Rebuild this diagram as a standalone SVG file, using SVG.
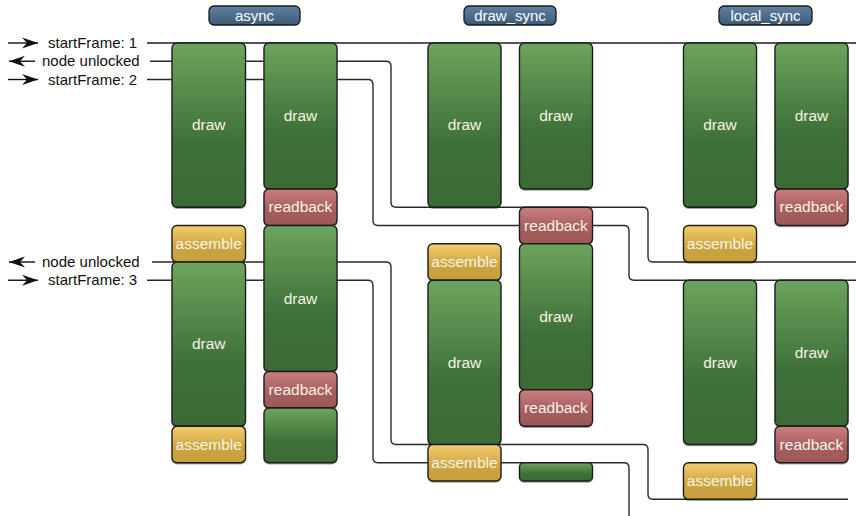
<svg xmlns="http://www.w3.org/2000/svg" width="856" height="516" viewBox="0 0 856 516">
<defs>
<linearGradient id="gG" x1="0" y1="0" x2="0" y2="1"><stop offset="0" stop-color="#6ca45e"/><stop offset="0.62" stop-color="#3d7038"/><stop offset="1" stop-color="#3a6b35"/></linearGradient>
<linearGradient id="gR" x1="0" y1="0" x2="0" y2="1"><stop offset="0" stop-color="#cc7d7d"/><stop offset="0.6" stop-color="#a35d5d"/><stop offset="1" stop-color="#9e5858"/></linearGradient>
<linearGradient id="gA" x1="0" y1="0" x2="0" y2="1"><stop offset="0" stop-color="#f2cd6e"/><stop offset="0.6" stop-color="#cca440"/><stop offset="1" stop-color="#c79f3c"/></linearGradient>
<linearGradient id="gH" x1="0" y1="0" x2="0" y2="1"><stop offset="0" stop-color="#5f82a2"/><stop offset="1" stop-color="#3c5a78"/></linearGradient>
<filter id="sh" x="-10%" y="-10%" width="120%" height="130%"><feDropShadow dx="0" dy="1" stdDeviation="0.7" flood-color="#000" flood-opacity="0.35"/></filter>
<marker id="arR" viewBox="0 0 16 12" refX="16" refY="6" markerWidth="16" markerHeight="12" markerUnits="userSpaceOnUse" orient="auto"><path d="M0,0.5 L16,6 L0,11.5 L5,6 Z" fill="#111"/></marker>
</defs>
<style>
.box{stroke:#1a1a1a;stroke-width:1.3;filter:url(#sh)}
.draw{fill:url(#gG)}
.rb{fill:url(#gR)}
.as{fill:url(#gA)}
.hd{fill:url(#gH);stroke:#1a1a1a;stroke-width:1.3}
.bt{font-family:"Liberation Sans",Arial,sans-serif;font-size:15.5px;fill:#f6f2e6;text-anchor:middle}
.ht{font-family:"Liberation Sans",Arial,sans-serif;font-size:15px;fill:#ffffff;text-anchor:middle}
.lt{font-family:"Liberation Sans",Arial,sans-serif;font-size:15px;fill:#111;text-anchor:start}
.ln{fill:none;stroke:#2b2b2b;stroke-width:1.4}
.top{fill:none;stroke:#555;stroke-width:1.8}
.ar{fill:none;stroke:#111;stroke-width:1.4;marker-end:url(#arR)}
</style>
<rect width="856" height="516" fill="#ffffff"/>

<g id="connectors">
<path class="top" d="M147,43 H856"/>
<path class="ln" d="M150,61.25 H386 Q391,61.25 391,66.25 V202.25 Q391,207.25 396,207.25 H643 Q648,207.25 648,212.25 V257 Q648,262 653,262 H856"/>
<path class="ln" d="M147,79.5 H368 Q373,79.5 373,84.5 V220.5 Q373,225.5 378,225.5 H624 Q629,225.5 629,230.5 V275.25 Q629,280.25 634,280.25 H856"/>
<path class="ln" d="M152,262 H386 Q391,262 391,267 V439.5 Q391,444.5 396,444.5 H643 Q648,444.5 648,449.5 V494.25 Q648,499.25 653,499.25 H848"/>
<path class="ln" d="M147,280.25 H368 Q373,280.25 373,285.25 V457.75 Q373,462.75 378,462.75 H624 Q629,462.75 629,467.75 V516"/>
<path class="ar" d="M8,43 H38"/>
<path class="ar" d="M35,61.25 H9"/>
<path class="ar" d="M8,79.5 H38"/>
<path class="ar" d="M35,262 H9"/>
<path class="ar" d="M8,280.25 H38"/>
</g>

<g id="labels">
<text class="lt" x="48" y="48">startFrame: 1</text>
<text class="lt" x="42" y="66">node unlocked</text>
<text class="lt" x="48" y="84.5">startFrame: 2</text>
<text class="lt" x="42" y="267">node unlocked</text>
<text class="lt" x="48" y="285">startFrame: 3</text>
</g>

<g id="hdr-async"><rect class="hd" x="209" y="6" width="91" height="19" rx="5"/><text class="ht" x="254.5" y="21">async</text></g>
<g id="hdr-draw_sync"><rect class="hd" x="464" y="6" width="92" height="19" rx="5"/><text class="ht" x="510" y="21">draw_sync</text></g>
<g id="hdr-local_sync"><rect class="hd" x="719" y="6" width="93" height="19" rx="5"/><text class="ht" x="765.5" y="21">local_sync</text></g>

<!-- async -->
<g id="a-l-draw1"><rect class="box draw" x="172" y="43" width="73.5" height="164.25" rx="5"/><text class="bt" x="208.75" y="130">draw</text></g>
<g id="a-l-asm1"><rect class="box as" x="172" y="225.5" width="73.5" height="36.5" rx="5"/><text class="bt" x="208.75" y="248.5">assemble</text></g>
<g id="a-l-draw2"><rect class="box draw" x="172" y="262" width="73.5" height="164.25" rx="5"/><text class="bt" x="208.75" y="349">draw</text></g>
<g id="a-l-asm2"><rect class="box as" x="172" y="426.25" width="73.5" height="36.5" rx="5"/><text class="bt" x="208.75" y="449.5">assemble</text></g>
<g id="a-r-draw1"><rect class="box draw" x="264" y="43" width="73" height="146" rx="5"/><text class="bt" x="300.5" y="121">draw</text></g>
<g id="a-r-rb1"><rect class="box rb" x="264" y="189" width="73" height="36.5" rx="5"/><text class="bt" x="300.5" y="212">readback</text></g>
<g id="a-r-draw2"><rect class="box draw" x="264" y="225.5" width="73" height="146" rx="5"/><text class="bt" x="300.5" y="303.5">draw</text></g>
<g id="a-r-rb2"><rect class="box rb" x="264" y="371.5" width="73" height="36.5" rx="5"/><text class="bt" x="300.5" y="394.5">readback</text></g>
<g id="a-r-draw3"><rect class="box draw" x="264" y="408" width="73" height="54.75" rx="5"/></g>

<!-- draw_sync -->
<g id="d-l-draw1"><rect class="box draw" x="428" y="43" width="73" height="164.25" rx="5"/><text class="bt" x="464.5" y="130">draw</text></g>
<g id="d-l-asm1"><rect class="box as" x="428" y="243.75" width="73" height="36.5" rx="5"/><text class="bt" x="464.5" y="267">assemble</text></g>
<g id="d-l-draw2"><rect class="box draw" x="428" y="280.25" width="73" height="164.25" rx="5"/><text class="bt" x="464.5" y="367.5">draw</text></g>
<g id="d-l-asm2"><rect class="box as" x="428" y="444.5" width="73" height="36.5" rx="5"/><text class="bt" x="464.5" y="467.5">assemble</text></g>
<g id="d-r-draw1"><rect class="box draw" x="519.5" y="43" width="73" height="146" rx="5"/><text class="bt" x="556" y="121">draw</text></g>
<g id="d-r-rb1"><rect class="box rb" x="519.5" y="207.25" width="73" height="36.5" rx="5"/><text class="bt" x="556" y="230.5">readback</text></g>
<g id="d-r-draw2"><rect class="box draw" x="519.5" y="243.75" width="73" height="146" rx="5"/><text class="bt" x="556" y="321.5">draw</text></g>
<g id="d-r-rb2"><rect class="box rb" x="519.5" y="389.75" width="73" height="36.5" rx="5"/><text class="bt" x="556" y="413">readback</text></g>
<g id="d-r-draw3"><rect class="box draw" x="519.5" y="462.75" width="73" height="18.25" rx="4"/></g>

<!-- local_sync -->
<g id="l-l-draw1"><rect class="box draw" x="683.5" y="43" width="73" height="164.25" rx="5"/><text class="bt" x="720" y="130">draw</text></g>
<g id="l-l-asm1"><rect class="box as" x="683.5" y="225.5" width="73" height="36.5" rx="5"/><text class="bt" x="720" y="248.5">assemble</text></g>
<g id="l-l-draw2"><rect class="box draw" x="683.5" y="280.25" width="73" height="164.25" rx="5"/><text class="bt" x="720" y="367.5">draw</text></g>
<g id="l-l-asm2"><rect class="box as" x="683.5" y="462.75" width="73" height="36.5" rx="5"/><text class="bt" x="720" y="486">assemble</text></g>
<g id="l-r-draw1"><rect class="box draw" x="775" y="43" width="73" height="146" rx="5"/><text class="bt" x="811.5" y="121">draw</text></g>
<g id="l-r-rb1"><rect class="box rb" x="775" y="189" width="73" height="36.5" rx="5"/><text class="bt" x="811.5" y="212">readback</text></g>
<g id="l-r-draw2"><rect class="box draw" x="775" y="280.25" width="73" height="146" rx="5"/><text class="bt" x="811.5" y="358">draw</text></g>
<g id="l-r-rb2"><rect class="box rb" x="775" y="426.25" width="73" height="36.5" rx="5"/><text class="bt" x="811.5" y="449.5">readback</text></g>
</svg>
